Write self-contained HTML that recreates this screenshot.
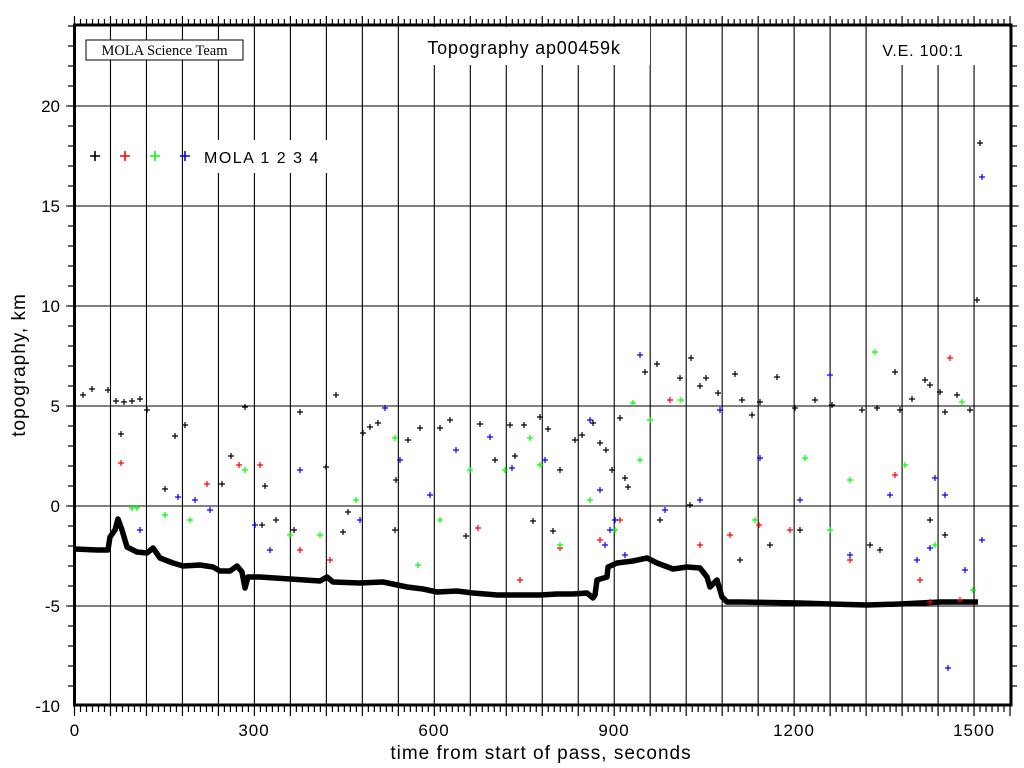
<!DOCTYPE html>
<html><head><meta charset="utf-8"><style>
html,body{margin:0;padding:0;background:#fff;}
svg{display:block;}
text{font-family:"Liberation Sans",sans-serif;}
</style></head><body>
<svg id="s" width="1024" height="768" viewBox="0 0 1024 768" xmlns="http://www.w3.org/2000/svg">
<rect width="1024" height="768" fill="#fff"/>
<g id="grid" stroke="#000" stroke-width="1.1"></g>
<g id="data"></g>
<rect x="86" y="40" width="157" height="20" fill="#fff" stroke="#000" stroke-width="1"/>
<text x="164.5" y="55" font-size="14.5" text-anchor="middle" style="font-family:'Liberation Serif',serif">MOLA Science Team</text>
<rect x="400" y="27" width="250" height="38" fill="#fff"/>
<text x="524" y="54" font-size="18" text-anchor="middle" letter-spacing="0.8">Topography ap00459k</text>
<rect x="880" y="27" width="105" height="38" fill="#fff"/>
<text x="923" y="56" font-size="16" text-anchor="middle" letter-spacing="0.8">V.E. 100:1</text>
<rect x="200" y="140" width="130" height="33" fill="#fff"/>
<g stroke-width="1.6">
<path d="M90 156h10M95 151v10" stroke="#000"/>
<path d="M120 156h10M125 151v10" stroke="#f00"/>
<path d="M150 156h10M155 151v10" stroke="#0f0"/>
<path d="M180 156h10M185 151v10" stroke="#00f"/>
</g>
<text x="204" y="163" font-size="16" letter-spacing="1.5">MOLA 1 2 3 4</text>
<rect x="74.5" y="25" width="936.5" height="680" fill="none" stroke="#000" stroke-width="3"/>
<g id="ticks" stroke="#000" stroke-width="1.2"></g>
<g font-size="17" text-anchor="end">
<text x="60" y="112">20</text><text x="60" y="212">15</text><text x="60" y="312">10</text>
<text x="60" y="412">5</text><text x="60" y="512">0</text><text x="60" y="612">-5</text><text x="60" y="712">-10</text>
</g>
<g font-size="17" text-anchor="middle" letter-spacing="1">
<text x="75" y="736">0</text><text x="254" y="736">300</text><text x="434" y="736">600</text>
<text x="614" y="736">900</text><text x="794" y="736">1200</text><text x="974" y="736">1500</text>
</g>
<text x="541" y="759" font-size="19" text-anchor="middle" letter-spacing="1">time from start of pass, seconds</text>
<text transform="translate(25,365) rotate(-90)" font-size="19" text-anchor="middle" letter-spacing="1">topography, km</text>
</svg>
<script>
var NS="http://www.w3.org/2000/svg";
function el(p,t,a){var e=document.createElementNS(NS,t);for(var k in a)e.setAttribute(k,a[k]);p.appendChild(e);return e;}
var g=document.getElementById('grid'),tk=document.getElementById('ticks'),d=document.getElementById('data');
var X=function(t){return 74.5+0.5997*t;};
for(var t=60;t<1561;t+=60){el(g,'line',{x1:X(t),x2:X(t),y1:25,y2:705});}
[106,206,306,406,506,606].forEach(function(y){el(g,'line',{x1:66,x2:1019,y1:y,y2:y});});
for(var t=0;t<=1560;t+=10){var x=X(t);el(tk,'line',{x1:x,x2:x,y1:705,y2:(t%60==0?716:712)});el(tk,'line',{x1:x,x2:x,y1:25,y2:(t%60==0?16:19)});}
for(var y=26;y<=705;y+=20){el(tk,'line',{x1:68,x2:74,y1:y,y2:y});el(tk,'line',{x1:1011,x2:1017,y1:y,y2:y});}
var prof=[[75,549],[97,550],[108,550],[110,537],[115,530],[118,519],[122,530],[127,547],[137,552],[147,553],[153,548],[160,558],[173,563],[183,566],[200,565],[213,567],[220,571],[230,571],[237,566],[242,572],[245,588],[248,577],[260,577],[290,579],[320,581],[327,577],[333,582],[360,583],[383,582],[407,587],[423,589],[437,592],[457,591],[473,593],[497,595],[523,595],[540,595],[557,594],[573,594],[587,593],[593,598],[595,595],[597,580],[607,577],[608,567],[617,563],[633,561],[647,558],[657,563],[673,569],[687,567],[700,568],[707,577],[710,587],[717,580],[722,597],[727,602],[740,602],[800,603],[830,604],[867,605],[900,604],[940,602],[978,602]];
el(d,'polyline',{points:prof.map(function(p){return p.join(',')}).join(' '),fill:'none',stroke:'#000','stroke-width':5.5,'stroke-linejoin':'round'});
var pts={
'#000':[[83,395],[92,389],[108,390],[116,401],[121,434],[124,402],[132,401],[140,399],[147,410],[165,489],[175,436],[185,425],[222,484],[231,456],[245,407],[262,525],[265,486],[276,520],[294,530],[300,412],[336,395],[326,467],[348,512],[343,532],[363,433],[370,427],[378,423],[395,530],[396,480],[408,440],[420,428],[440,428],[450,420],[466,536],[480,424],[495,460],[510,425],[515,456],[524,425],[533,521],[540,417],[548,429],[553,531],[560,470],[575,440],[582,435],[593,423],[600,443],[606,450],[612,470],[620,418],[625,478],[628,487],[645,372],[657,364],[680,378],[691,358],[700,386],[706,378],[718,393],[735,374],[742,400],[752,415],[760,402],[777,377],[795,408],[815,400],[832,405],[862,410],[877,408],[895,372],[900,410],[912,399],[925,380],[930,385],[940,392],[945,412],[957,395],[970,410],[980,32],[980,143],[977,300],[660,520],[690,505],[740,560],[770,545],[800,530],[870,545],[880,550],[930,520],[945,535]],
'#f00':[[121,463],[239,465],[260,465],[207,484],[300,550],[330,560],[478,528],[520,580],[560,548],[600,540],[620,520],[670,400],[700,545],[730,535],[759,525],[790,530],[850,560],[895,475],[920,580],[930,602],[960,600],[950,358]],
'#0f0':[[132,508],[137,508],[165,515],[190,520],[245,470],[290,535],[320,535],[356,500],[395,438],[418,565],[440,520],[470,470],[505,470],[530,438],[540,465],[560,545],[590,500],[615,530],[633,403],[640,460],[650,420],[681,400],[755,520],[805,458],[830,530],[850,480],[875,352],[905,465],[935,545],[962,402],[973,590]],
'#00f':[[140,530],[178,497],[195,500],[210,510],[255,525],[270,550],[300,470],[360,520],[385,408],[400,460],[430,495],[456,450],[490,437],[512,468],[545,460],[600,490],[605,545],[610,530],[615,520],[640,355],[665,510],[700,500],[720,410],[760,458],[800,500],[830,375],[850,555],[890,495],[935,478],[945,495],[917,560],[930,548],[965,570],[948,668],[982,540],[982,177],[590,420],[625,555]]
};
for(var c in pts){var s='';pts[c].forEach(function(p){s+='M'+(p[0]-3)+' '+p[1]+'h6M'+p[0]+' '+(p[1]-3)+'v6';});el(d,'path',{d:s,stroke:c,'stroke-width':1.2,fill:'none'});}
</script>
</body></html>
